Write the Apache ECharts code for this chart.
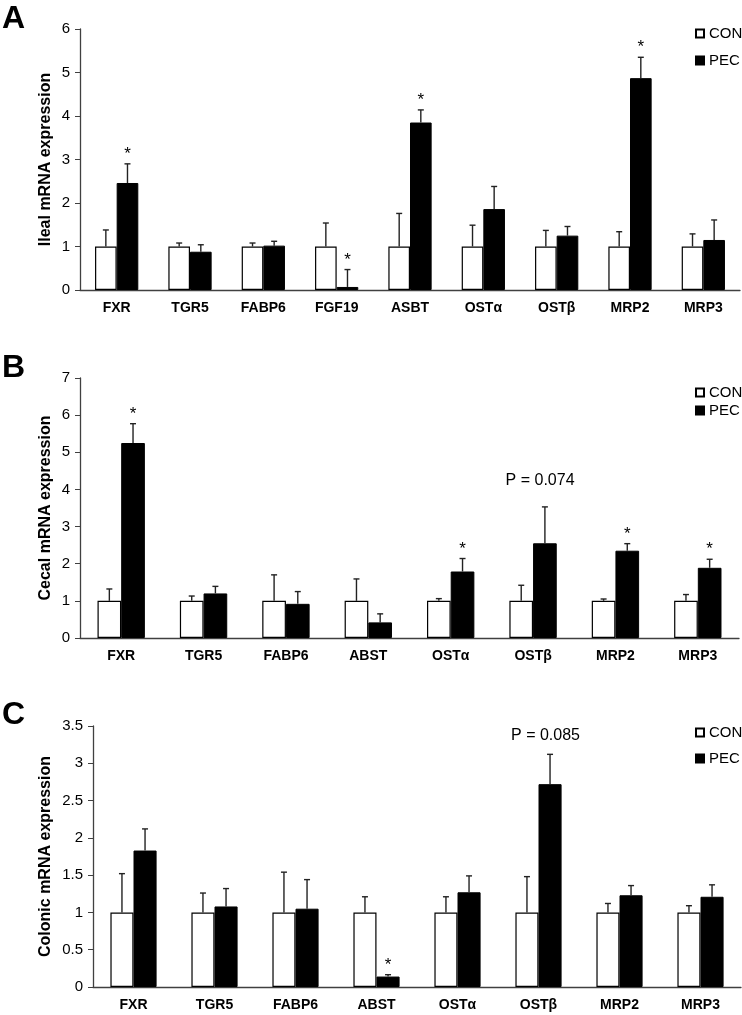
<!DOCTYPE html>
<html>
<head>
<meta charset="utf-8">
<script src="https://cdn.jsdelivr.net/npm/echarts@6/dist/echarts.min.js"></script>
<style>html,body{margin:0;padding:0;background:#fff}#c{width:742px;height:1015px}</style>
</head>
<body>
<div id="c"></div>
<script>
// ---------- data ----------
const catsA = ['FXR','TGR5','FABP6','FGF19','ASBT','OSTα','OSTβ','MRP2','MRP3'];
const conA = [1,1,1,1,1,1,1,1,1];
const conErrA = [0.38,0.08,0.08,0.54,0.76,0.49,0.37,0.34,0.29];
const pecA = [2.46,0.88,1.02,0.07,3.85,1.86,1.25,4.87,1.15];
const pecErrA = [0.44,0.16,0.10,0.40,0.29,0.52,0.21,0.48,0.46];
const starA = ['FXR','FGF19','ASBT','MRP2'];

const catsB = ['FXR','TGR5','FABP6','ABST','OSTα','OSTβ','MRP2','MRP3'];
const conB = [1,1,1,1,1,1,1,1];
const conErrB = [0.32,0.13,0.70,0.59,0.06,0.42,0.05,0.17];
const pecB = [5.25,1.20,0.92,0.42,1.79,2.55,2.35,1.89];
const pecErrB = [0.52,0.19,0.33,0.23,0.35,0.98,0.19,0.23];
const starB = ['FXR','OSTα','MRP2','MRP3'];
const noteB = {cat:'OSTβ', value:4.25, text:'P = 0.074'};

const catsC = ['FXR','TGR5','FABP6','ABST','OSTα','OSTβ','MRP2','MRP3'];
const conC = [1,1,1,1,1,1,1,1];
const conErrC = [0.52,0.26,0.54,0.21,0.21,0.48,0.12,0.09];
const pecC = [1.83,1.08,1.05,0.14,1.27,2.72,1.23,1.21];
const pecErrC = [0.29,0.24,0.39,0.025,0.22,0.40,0.13,0.16];
const starC = ['ABST'];
const noteC = {cat:'OSTβ', value:3.37, text:'P = 0.085'};

const yNames = ['Ileal mRNA expression','Cecal mRNA expression','Colonic mRNA expression'];
const yMax = [6,7,3.5];
const yInt = [1,1,0.5];
const panelLetters = ['A','B','C'];

// ---------- layout ----------
const FONT = '"Liberation Sans", Arial, sans-serif';
const AX = '#404040';
const grids = [
  {left:80, top:29, width:660, height:261},
  {left:80, top:378, width:659, height:260},
  {left:93, top:726, width:648, height:261}
];
const gaps = [0.41, 0.425, 0.43];
const nameGaps = [26, 26, 39];
const legendTops = [26, 385, 725];
const legendGaps = [12, 3, 11];

const panels = [
  {cats:catsA, con:conA, conErr:conErrA, pec:pecA, pecErr:pecErrA, star:starA, note:null},
  {cats:catsB, con:conB, conErr:conErrB, pec:pecB, pecErr:pecErrB, star:starB, note:noteB},
  {cats:catsC, con:conC, conErr:conErrC, pec:pecC, pecErr:pecErrC, star:starC, note:noteC}
];

const xAxis = [], yAxis = [], series = [], legend = [], graphic = [];
panels.forEach((p, i) => {
  xAxis.push({
    type:'category', gridIndex:i, data:p.cats,
    axisLine:{lineStyle:{color:AX, width:1.3}},
    axisTick:{show:false},
    axisLabel:{fontFamily:FONT, fontSize:14, fontWeight:'bold', color:'#000', margin:11, interval:0}
  });
  yAxis.push({
    type:'value', gridIndex:i, min:0, max:yMax[i], interval:yInt[i],
    name:yNames[i], nameLocation:'middle', nameRotate:90, nameGap:nameGaps[i],
    nameMoveOverlap:false,
    nameTextStyle:{fontFamily:FONT, fontSize:16, fontWeight:'bold', color:'#000'},
    axisLine:{show:true, lineStyle:{color:AX, width:1.3}},
    axisTick:{show:true, length:5, lineStyle:{color:AX}},
    splitLine:{show:false},
    axisLabel:{fontFamily:FONT, fontSize:15, color:'#000', margin:10}
  });
  const gapPct = (gaps[i]*100) + '%';
  series.push({
    name:'CON', type:'bar', xAxisIndex:i, yAxisIndex:i, data:p.con,
    barGap:'0%', barCategoryGap:gapPct,
    itemStyle:{color:'#fff', borderColor:'#000', borderWidth:1.2}
  });
  series.push({
    name:'PEC', type:'bar', xAxisIndex:i, yAxisIndex:i, data:p.pec,
    barGap:'0%', barCategoryGap:gapPct,
    itemStyle:{color:'#000', borderColor:'#000', borderWidth:1}
  });
  const errData = [];
  p.cats.forEach((c, k) => {
    errData.push([k, 0, p.con[k], p.con[k] + p.conErr[k], 0]);
    errData.push([k, 1, p.pec[k], p.pec[k] + p.pecErr[k], p.star.indexOf(c) >= 0 ? 1 : 0]);
  });
  const g = gaps[i];
  series.push({
    type:'custom', xAxisIndex:i, yAxisIndex:i, data:errData, z:5, silent:true,
    encode:{x:0, y:3},
    renderItem:function(params, api){
      const cat = api.value(0), which = api.value(1);
      const base = api.coord([cat, api.value(2)]);
      const tp = api.coord([cat, api.value(3)]);
      const band = api.size([1,0])[0];
      const bw = band*(1-g)/2;
      const x = base[0] + (which === 0 ? -bw/2 : bw/2);
      const st = {stroke:'#222', lineWidth:1.4};
      const ch = [
        {type:'line', shape:{x1:x, y1:base[1], x2:x, y2:tp[1]}, style:st},
        {type:'line', shape:{x1:x-3, y1:tp[1], x2:x+3, y2:tp[1]}, style:st}
      ];
      if (api.value(4) === 1) {
        ch.push({type:'text', x:x, y:tp[1]-1, style:{text:'*', fontFamily:FONT, fontSize:17, fill:'#000', align:'center', verticalAlign:'bottom'}});
      }
      return {type:'group', children:ch};
    }
  });
  if (p.note) {
    series.push({
      type:'custom', xAxisIndex:i, yAxisIndex:i, silent:true,
      data:[[p.cats.indexOf(p.note.cat), p.note.value]],
      renderItem:(function(note){ return function(params, api){
        const pt = api.coord([api.value(0), api.value(1)]);
        return {type:'text', x:pt[0]+7, y:pt[1], style:{text:note.text, fontFamily:FONT, fontSize:16, fill:'#000', align:'center', verticalAlign:'middle'}};
      };})(p.note)
    });
  }
  legend.push({
    data:['CON','PEC'], orient:'vertical', left:695, top:legendTops[i], padding:0,
    itemWidth:8, itemHeight:8, itemGap:legendGaps[i], selectedMode:false,
    icon:'rect',
    textStyle:{fontFamily:FONT, fontSize:15, color:'#000', lineHeight:14}
  });
  graphic.push({
    type:'text', left:2, top:[3, 352, 699][i],
    style:{text:panelLetters[i], fontFamily:FONT, fontSize:32, fontWeight:'bold', fill:'#000'}
  });
});

const chart = echarts.init(document.getElementById('c'), null, {renderer:'canvas'});
chart.setOption({
  animation:false,
  backgroundColor:'#fff',
  grid:grids,
  xAxis:xAxis, yAxis:yAxis, series:series, legend:legend, graphic:graphic
});
</script>
</body>
</html>
